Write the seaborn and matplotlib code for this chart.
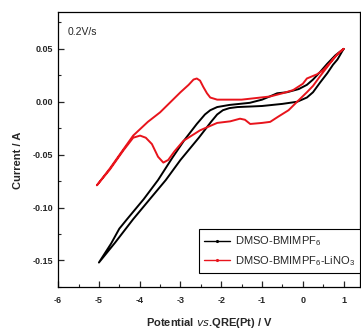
import pandas as pd
import matplotlib
matplotlib.use('Agg')
import matplotlib.pyplot as plt
from matplotlib.lines import Line2D
from matplotlib.ticker import MultipleLocator
import seaborn as sns


# CV of DMSO-BMIMPF6, scan from 1 V down to -5 V and back
black_v = [1.0, 0.85, 0.74, 0.6, 0.42, 0.25, 0.1, -0.14, -0.5, -1.0, -1.29, -1.6, -1.8,
           -1.96, -2.1, -2.25, -2.55, -3.0, -3.36, -3.75, -4.16, -4.6, -5.0,
           -4.7, -4.5, -4.31, -3.9, -3.55, -3.2, -2.9, -2.6, -2.4, -2.27, -2.1, -1.8,
           -1.3, -1.0, -0.75, -0.63, -0.39, -0.1, 0.1, 0.25, 0.42, 0.6, 0.8, 1.0]
black_i = [0.050, 0.040, 0.035, 0.027, 0.018, 0.009, 0.004, 0.000, -0.002, -0.004, -0.0045, -0.005, -0.006,
           -0.008, -0.012, -0.019, -0.034, -0.055, -0.074, -0.092, -0.111, -0.133, -0.152,
           -0.134, -0.120, -0.111, -0.092, -0.074, -0.053, -0.036, -0.021, -0.012, -0.008, -0.005, -0.003,
           -0.001, 0.002, 0.006, 0.008, 0.009, 0.012, 0.016, 0.021, 0.028, 0.036, 0.044, 0.050]

# CV of DMSO-BMIMPF6-LiNO3
red_v = [1.0, 0.85, 0.74, 0.6, 0.42, 0.25, 0.1, -0.14, -0.35, -0.6, -0.8, -1.0, -1.29, -1.42,
         -1.54, -1.78, -2.1, -2.52, -2.93, -3.15, -3.3, -3.42, -3.55, -3.7, -3.85, -3.99,
         -4.16, -4.4, -4.73, -5.05,
         -4.73, -4.4, -4.16, -3.8, -3.5, -3.0, -2.8, -2.68, -2.6, -2.52, -2.44, -2.35, -2.27,
         -2.1, -1.5, -0.8, -0.5, -0.24, 0.0, 0.1, 0.35, 0.5, 0.67, 0.85, 1.0]
red_i = [0.050, 0.045, 0.040, 0.033, 0.024, 0.015, 0.009, 0.000, -0.008, -0.014, -0.019, -0.020, -0.021, -0.017,
         -0.016, -0.0185, -0.020, -0.027, -0.037, -0.047, -0.055, -0.0575, -0.052, -0.040, -0.034, -0.032,
         -0.034, -0.046, -0.064, -0.079,
         -0.063, -0.045, -0.032, -0.019, -0.010, 0.009, 0.016, 0.021, 0.022, 0.020, 0.014, 0.008, 0.004,
         0.002, 0.002, 0.005, 0.008, 0.011, 0.017, 0.022, 0.026, 0.030, 0.037, 0.045, 0.050]

label_black = 'DMSO-BMIMPF$_6$'
label_red = 'DMSO-BMIMPF$_6$-LiNO$_3$'

sns.set_style('ticks')
plt.rcParams['font.family'] = ['Liberation Sans', 'DejaVu Sans']
plt.rcParams['mathtext.default'] = 'regular'

fig = plt.figure(figsize=(3.61, 3.29), dpi=100)
ax = fig.add_axes([0.161, 0.128, 0.836, 0.836])

df_black = pd.DataFrame({'v': black_v, 'i': black_i})
df_red = pd.DataFrame({'v': red_v, 'i': red_i})
sns.lineplot(data=df_black, x='v', y='i', sort=False, estimator=None,
             color='black', linewidth=1.4, ax=ax)
sns.lineplot(data=df_red, x='v', y='i', sort=False, estimator=None,
             color='#e8141c', linewidth=1.4, ax=ax)

ax.set_xlim(-6, 1.4)
ax.set_ylim(-0.175, 0.085)
ax.xaxis.set_major_locator(MultipleLocator(1))
ax.xaxis.set_minor_locator(MultipleLocator(0.5))
ax.yaxis.set_major_locator(MultipleLocator(0.05))
ax.yaxis.set_minor_locator(MultipleLocator(0.025))
ax.yaxis.set_major_formatter(matplotlib.ticker.FormatStrFormatter('%.2f'))
ax.xaxis.set_major_formatter(matplotlib.ticker.FormatStrFormatter('%d'))

ax.tick_params(which='major', direction='in', length=4, width=0.9, labelsize=6.5)
ax.tick_params(which='minor', direction='in', length=2, width=0.8)
ax.tick_params(axis='x', pad=6.5)
ax.tick_params(axis='y', pad=3.5)
for lab in ax.get_xticklabels() + ax.get_yticklabels():
    lab.set_fontweight('bold')
for sp in ax.spines.values():
    sp.set_visible(True)
    sp.set_color('black')
    sp.set_linewidth(0.9)

ax.set_xlabel('Potential $\\mathbf{\\it{vs}}$.QRE(Pt) / V', fontsize=8, fontweight='bold')
ax.set_ylabel('Current / A', fontsize=8, fontweight='bold')
ax.xaxis.set_label_coords(0.5, -0.105)
ax.yaxis.set_label_coords(-0.118, 0.46)

ax.text(0.03, 0.945, '0.2V/s', transform=ax.transAxes, fontsize=7.5, va='top', ha='left')

handles = [Line2D([], [], color='black', linewidth=1.0, marker='.', markersize=2.5),
           Line2D([], [], color='#e8141c', linewidth=1.0, marker='.', markersize=2.5)]
leg = ax.legend(handles, [label_black, label_red], loc='lower right',
                bbox_to_anchor=(1.0, 0.05), borderaxespad=0, fontsize=8,
                frameon=True, fancybox=False, edgecolor='black', framealpha=1,
                handlelength=2.4, handletextpad=0.4, labelspacing=0.55,
                borderpad=0.45, numpoints=1)
leg.get_frame().set_linewidth(0.8)

fig.savefig('out.png', dpi=100)
plt.close(fig)
